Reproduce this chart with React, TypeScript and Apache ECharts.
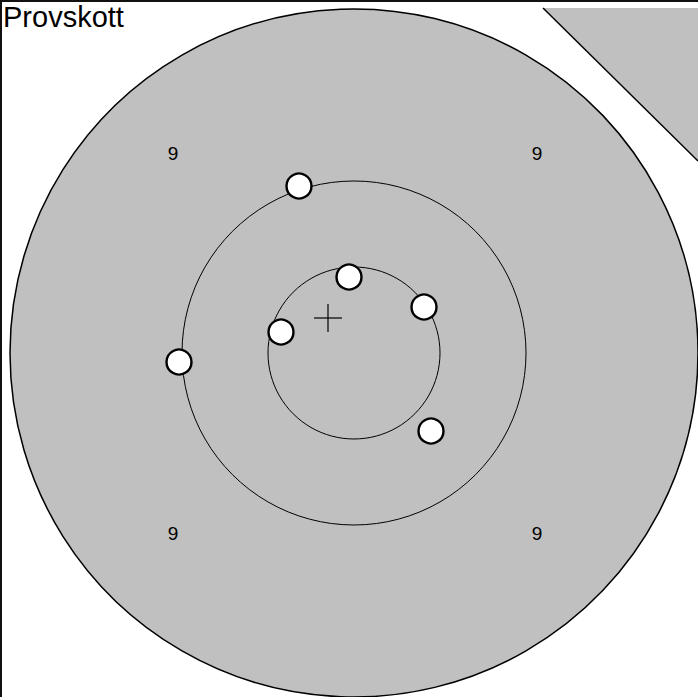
import React, { useEffect, useRef } from "react";
import * as echarts from "echarts";

// Target coordinates: origin at target centre, units = pixels, y up
const ringRadii = [344, 172, 86];
const ringFilled = [1, 0, 0];
const shots: [number, number][] = [
  [-55, 167],
  [-5, 76],
  [70, 46],
  [-73, 21],
  [-175, -9],
  [77, -78],
];
const meanPoint: [number, number] = [-26, 35];
const ringLabels = ["9", "9", "9", "9"];
const ringLabelPos: [number, number][] = [
  [-181, 200],
  [183, 200],
  [-181, -180],
  [183, -180],
];
const nextTargetEdge: [number, number][] = [
  [189, 345],
  [344, 345],
  [344, 192],
];
const titleText = "Provskott";

export default function App() {
  const ref = useRef<HTMLDivElement>(null);
  useEffect(() => {
    if (!ref.current) return;
    const chart = echarts.init(ref.current, null, { renderer: "svg" });
    chart.setOption({
      animation: false,
      backgroundColor: "#ffffff",
      title: {
        text: titleText,
        left: 3,
        top: 2,
        padding: 0,
        textStyle: {
          fontFamily: "Liberation Sans, Arial, sans-serif",
          fontSize: 29,
          fontWeight: "normal",
          color: "#000",
        },
      },
      grid: { left: 0, right: 0, top: 0, bottom: 0 },
      xAxis: { type: "value", min: -354, max: 344, show: false },
      yAxis: { type: "value", min: -344, max: 353, show: false },
      series: [
        {
          type: "custom",
          z: 1,
          clip: false,
          data: [nextTargetEdge[0]],
          encode: { x: 0, y: 1 },
          renderItem: (params: any, api: any) => {
            const pts = nextTargetEdge.map((p) => api.coord(p));
            return {
              type: "polygon",
              shape: { points: pts },
              style: { fill: "#c0c0c0" },
            };
          },
        },
        {
          type: "custom",
          z: 6,
          clip: false,
          data: [nextTargetEdge[2]],
          encode: { x: 0, y: 1 },
          renderItem: (params: any, api: any) => {
            const a = api.coord(nextTargetEdge[0]);
            const b = api.coord(nextTargetEdge[2]);
            return {
              type: "line",
              shape: { x1: a[0], y1: a[1], x2: b[0], y2: b[1] },
              style: { stroke: "#000", lineWidth: 1.5 },
            };
          },
        },
        {
          type: "custom",
          z: 2,
          clip: false,
          data: ringRadii.map((r, i) => [0, 0, r, ringFilled[i]]),
          encode: { x: 0, y: 1 },
          renderItem: (params: any, api: any) => {
            const c = api.coord([0, 0]);
            const r = api.size([api.value(2), api.value(2)])[0];
            const filled = api.value(3) === 1;
            return {
              type: "circle",
              shape: { cx: c[0], cy: c[1], r },
              style: {
                fill: filled ? "#c0c0c0" : "none",
                stroke: "#000",
                lineWidth: filled ? 1.5 : 1,
              },
            };
          },
        },
        {
          type: "custom",
          z: 3,
          data: ringLabelPos.map((p, i) => ({ value: p, name: ringLabels[i] })),
          encode: { x: 0, y: 1 },
          renderItem: (params: any, api: any) => {
            const c = api.coord([api.value(0), api.value(1)]);
            return {
              type: "text",
              x: c[0],
              y: c[1],
              style: {
                text: ringLabels[params.dataIndex],
                fill: "#000",
                fontSize: 19,
                fontFamily: "Liberation Sans",
                align: "center",
                verticalAlign: "middle",
              },
            };
          },
        },
        {
          type: "custom",
          z: 4,
          data: [meanPoint],
          encode: { x: 0, y: 1 },
          renderItem: (params: any, api: any) => {
            const c = api.coord([api.value(0), api.value(1)]);
            const h = 14;
            return {
              type: "group",
              children: [
                {
                  type: "line",
                  shape: { x1: c[0] - h, y1: c[1], x2: c[0] + h, y2: c[1] },
                  style: { stroke: "#000", lineWidth: 1.2 },
                },
                {
                  type: "line",
                  shape: { x1: c[0], y1: c[1] - h, x2: c[0], y2: c[1] + h },
                  style: { stroke: "#000", lineWidth: 1.2 },
                },
              ],
            };
          },
        },
        {
          type: "scatter",
          z: 5,
          symbol: "circle",
          symbolSize: 25,
          data: shots,
          itemStyle: { color: "#ffffff", borderColor: "#000", borderWidth: 2.4, opacity: 1 },
        },
      ],
      graphic: [
        { type: "rect", z: 100, shape: { x: 0, y: 0, width: 698, height: 2 }, style: { fill: "#111" } },
        { type: "rect", z: 100, shape: { x: 0, y: 0, width: 2, height: 697 }, style: { fill: "#111" } },
      ],
    });
    return () => chart.dispose();
  }, []);
  return (
    <div
      ref={ref}
      style={{ position: "absolute", left: 0, top: 0, width: 698, height: 697 }}
    />
  );
}
